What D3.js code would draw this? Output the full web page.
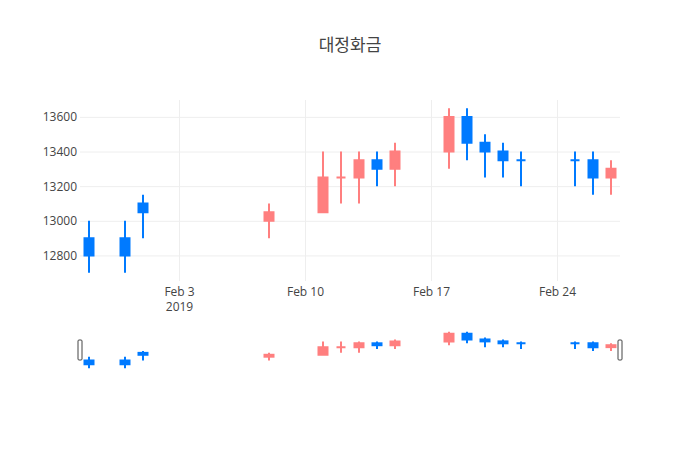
<!DOCTYPE html>
<html>
<head>
<meta charset="utf-8">
<script src="https://cdn.jsdelivr.net/npm/d3@7"></script>
<style>
  body { margin: 0; background: #fff; }
  svg, svg text { font-family: 'Open Sans', 'Noto Sans CJK KR', sans-serif; }
  .axis text { fill: #444; font-size: 12px; }
  .axis .domain { display: none; }
  .axis .tick line { stroke: #eee; }
</style>
</head>
<body>
<div id="chart"></div>
<script>
// daily prices (KRW)
const dates = ['2019-01-29', '2019-01-31', '2019-02-01', '2019-02-08', '2019-02-11', '2019-02-12',
  '2019-02-13', '2019-02-14', '2019-02-15', '2019-02-18', '2019-02-19', '2019-02-20',
  '2019-02-21', '2019-02-22', '2019-02-25', '2019-02-26', '2019-02-27'];
const open = [12900, 12900, 13100, 13000, 13050, 13250, 13250, 13350, 13300, 13400, 13600, 13450,
  13400, 13350, 13350, 13350, 13250];
const high = [13000, 13000, 13150, 13100, 13400, 13400, 13400, 13400, 13450, 13650, 13650, 13500,
  13450, 13400, 13400, 13400, 13350];
const low = [12700, 12700, 12900, 12900, 13050, 13100, 13100, 13200, 13200, 13300, 13350, 13250,
  13250, 13200, 13200, 13150, 13150];
const close = [12800, 12800, 13050, 13050, 13250, 13250, 13350, 13300, 13400, 13600, 13450, 13400,
  13350, 13350, 13350, 13250, 13300];

const yTicks = [12800, 13000, 13200, 13400, 13600];
const xTicks = ['2019-02-03', '2019-02-10', '2019-02-17', '2019-02-24'];
const title = '대정화금';

const config = {
  width: 700,
  height: 450,
  margin: { top: 100, right: 80, left: 80 },
  plotBottom: 281,
  slider: { top: 330, bottom: 370 },
  upColour: '#ff7f7f',
  downColour: '#007aff',
};

const parseDate = (s) => {
  const [yy, mm, dd] = s.split('-').map(Number);
  return new Date(yy, mm - 1, dd);
};

// one record per day, direction follows plotly's rule (ties keep the previous direction)
let increasing = true;
let prevClose = null;
const candles = dates.map((d, i) => {
  if (close[i] === open[i]) {
    if (prevClose !== null && close[i] !== prevClose) increasing = close[i] > prevClose;
  } else {
    increasing = close[i] > open[i];
  }
  prevClose = close[i];
  return {
    date: parseDate(d), o: open[i], h: high[i], l: low[i], c: close[i], up: increasing,
  };
});

const halfDay = 12 * 3600 * 1000;
const xScale = d3.scaleTime()
  .domain([+d3.min(candles, (d) => d.date) - halfDay, +d3.max(candles, (d) => d.date) + halfDay])
  .range([config.margin.left, config.width - config.margin.right]);

const lo = d3.min(low);
const hi = d3.max(high);
const pad = (hi - lo) * 0.05;
const yScale = d3.scaleLinear()
  .domain([lo - pad, hi + pad])
  .range([config.plotBottom, config.margin.top]);

const ySlider = yScale.copy().range([config.slider.bottom, config.slider.top]);

const dayWidth = xScale(parseDate('2019-02-02')) - xScale(parseDate('2019-02-01'));
const bodyWidth = dayWidth * 0.5;

const svg = d3.select('#chart').append('svg')
  .attr('width', config.width)
  .attr('height', config.height);

// grid + y labels
svg.append('g')
  .attr('class', 'axis y-axis')
  .attr('transform', `translate(${config.margin.left},0)`)
  .call(d3.axisLeft(yScale)
    .tickValues(yTicks)
    .tickFormat(d3.format('d'))
    .tickSize(-(config.width - config.margin.left - config.margin.right))
    .tickPadding(3));

// grid + x labels
const xAxis = svg.append('g')
  .attr('class', 'axis x-axis')
  .attr('transform', `translate(0,${config.plotBottom})`)
  .call(d3.axisBottom(xScale)
    .tickValues(xTicks.map(parseDate))
    .tickFormat(d3.timeFormat('%b %-d'))
    .tickSize(-(config.plotBottom - config.margin.top))
    .tickPadding(6));

xAxis.selectAll('.tick text')
  .filter((d, i) => i === 0)
  .append('tspan')
  .attr('x', 0)
  .attr('dy', '1.3em')
  .text((d) => d3.timeFormat('%Y')(d));

function drawCandles(parent, y) {
  const g = parent.selectAll('.candle')
    .data(candles)
    .enter()
    .append('g')
    .attr('class', 'candle')
    .attr('fill', (d) => (d.up ? config.upColour : config.downColour))
    .attr('stroke', (d) => (d.up ? config.upColour : config.downColour))
    .attr('stroke-width', 2);

  g.append('line')
    .attr('x1', (d) => xScale(d.date))
    .attr('x2', (d) => xScale(d.date))
    .attr('y1', (d) => y(d.h))
    .attr('y2', (d) => y(d.l));

  // body as a path so a flat (open == close) day still shows its bar
  g.append('path')
    .attr('d', (d) => {
      const x0 = xScale(d.date) - bodyWidth / 2;
      const x1 = x0 + bodyWidth;
      return `M${x0},${y(d.o)}H${x1}V${y(d.c)}H${x0}Z`;
    });
}

drawCandles(svg.append('g').attr('class', 'main'), yScale);
drawCandles(svg.append('g').attr('class', 'slider'), ySlider);

// range slider handles
const handleH = (config.slider.bottom - config.slider.top) / 2;
svg.append('g')
  .attr('class', 'slider-handles')
  .selectAll('rect')
  .data(xScale.range())
  .enter()
  .append('rect')
  .attr('x', (d) => d - 2)
  .attr('y', (config.slider.top + config.slider.bottom) / 2 - handleH / 2)
  .attr('width', 4)
  .attr('height', handleH)
  .attr('rx', 1)
  .attr('fill', '#fff')
  .attr('stroke', '#444')
  .attr('stroke-width', 1);

svg.append('text')
  .attr('x', config.width / 2)
  .attr('y', 51)
  .attr('text-anchor', 'middle')
  .attr('font-size', 17)
  .attr('fill', '#444')
  .text(title);
</script>
</body>
</html>
